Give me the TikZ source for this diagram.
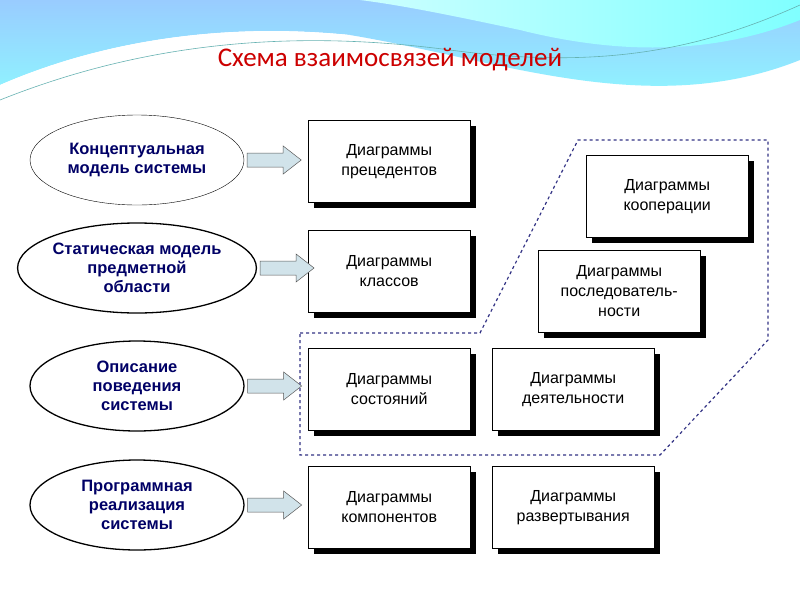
\documentclass[tikz,border=0pt]{standalone}
\usepackage{fontspec}
\usetikzlibrary{shapes.geometric}
\setmainfont{Liberation Sans}
\newfontfamily\titlefont{Carlito}
\begin{document}
\begin{tikzpicture}[x=1pt,y=-1pt,
  ell/.style={draw,ellipse,minimum width=214pt,minimum height=90pt,inner sep=0pt,fill=white,font=\bfseries\fontsize{16.5}{19}\selectfont,text=blue!40!black,align=center},
  dbox/.style={draw,fill=white,minimum width=162pt,minimum height=82pt,align=center,font=\fontsize{16}{20}\selectfont,anchor=north west},
  shad/.style={fill=black},
  arr/.style={draw=gray!70!black,fill=cyan!15!teal!20,line width=0.5pt}]
\useasboundingbox (0,0) rectangle (800,600);
\fill[white] (0,0) rectangle (800,600);
% banner
\shade[top color=cyan!50!blue!40,bottom color=cyan!45] (0,0) -- (800,0) -- (800,60) .. controls (650,120) and (500,60) .. (350,35) .. controls (200,20) and (80,50) .. (0,85) -- cycle;
\fill[white] (0,85) .. controls (80,50) and (200,20) .. (350,35) .. controls (200,35) and (80,65) .. (0,100) -- cycle;
\shade[left color=cyan!20,right color=cyan!50] (360,0) -- (800,0) -- (800,20) .. controls (700,60) and (600,50) .. (520,30) .. controls (450,15) and (400,5) .. (360,0) -- cycle;
\draw[teal!60,line width=0.6pt] (0,100) .. controls (150,40) and (300,30) .. (450,50) .. controls (600,70) and (700,50) .. (800,5);
\node[text=red!80!black,font=\titlefont\fontsize{27}{30}\selectfont] (title) at (390,60) {Схема взаимосвязей моделей};
% dashed region
\draw[dashed,draw=blue!40!black!80,line width=1.2pt] (300,333) -- (480,333) -- (578,140) -- (768,140) -- (768,340) -- (660,455) -- (300,455) -- cycle;
% ellipses
\node[ell,thin] (e1) at (137,160) {Концептуальная\\модель системы};
\node[ell,line width=1.3pt] (e2) at (137,268) {Статическая модель\\предметной\\области};
\node[ell,line width=1.3pt] (e3) at (137,386) {Описание\\поведения\\системы};
\node[ell,line width=1.3pt] (e4) at (137,505) {Программная\\реализация\\системы};
% boxes with shadows
\foreach \n/\x/\y/\t in {b1/308/120/{Диаграммы\\прецедентов},b2/308/230/{Диаграммы\\классов},b3/308/348/{Диаграммы\\состояний},b4/492/348/{Диаграммы\\деятельности},b5/308/466/{Диаграммы\\компонентов},b6/492/466/{Диаграммы\\развертывания},b7/586/155/{Диаграммы\\кооперации},b8/538/250/{Диаграммы\\последователь-\\ности}}{
  \fill[shad] (\x+6,\y+6) rectangle ++(162,82);
  \node[dbox] (\n) at (\x,\y) {\t};
}
% arrows
\foreach \e/\b in {e1/b1,e2/b2,e3/b3,e4/b5}{
  \path (\e.east) ++(3,0) coordinate (\e s);
  \draw[arr] (\e s) ++(0,-7) -- ++(36,0) -- ++(0,-7) -- ++(18,14) -- ++(-18,14) -- ++(0,-7) -- ++(-36,0) -- cycle;
}
\end{tikzpicture}
\end{document}
